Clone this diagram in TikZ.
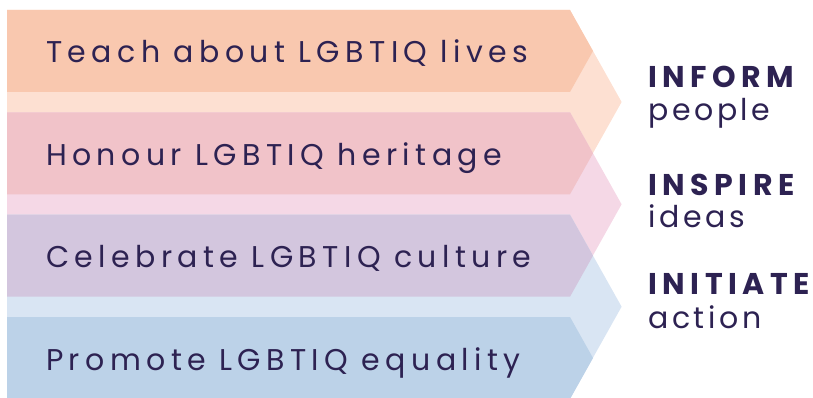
\documentclass[tikz,border=0pt]{standalone}
\usepackage{fontspec}
\setmainfont{Poppins}
\newfontfamily\bandfont[LetterSpace=18]{Poppins}
\newfontfamily\subfont[LetterSpace=12]{Poppins}
\newfontfamily\headfont[LetterSpace=18.5]{Poppins}
\usepackage{tikz}

\definecolor{txt}{HTML}{2D2252}
\definecolor{informfront}{HTML}{F9C8AF}
\definecolor{informback}{HTML}{FDE0D2}
\definecolor{honourfront}{HTML}{F1C3C9}
\definecolor{inspireback}{HTML}{F5D8E6}
\definecolor{celebfront}{HTML}{D3C6DE}
\definecolor{initiateback}{HTML}{D9E5F3}
\definecolor{promofront}{HTML}{BCD2E8}

\tikzset{
  bandtext/.style={anchor=base west,inner sep=0pt,text=txt,font=\bandfont\fontsize{30}{30}\selectfont},
  headtext/.style={anchor=base west,inner sep=0pt,text=txt,font=\headfont\bfseries\fontsize{30}{30}\selectfont},
  subtext/.style={anchor=base west,inner sep=0pt,text=txt,font=\subfont\fontsize{30}{30}\selectfont}
}

\begin{document}
\begin{tikzpicture}[x=1pt,y=-1pt]
				\useasboundingbox (0,0) rectangle (813,398);
				
				% back chevrons
				\fill[informback]   (7,10)    -- (570,10)    -- (621.6,102)   -- (570,194)   -- (7,194)   -- cycle;
				\fill[inspireback]  (7,112.3) -- (570,112.3) -- (621.6,204.3) -- (570,296.3) -- (7,296.3) -- cycle;
				\fill[initiateback] (7,214.7) -- (570,214.7) -- (621.6,306.7) -- (570,398.7) -- (7,398.7) -- cycle;
				
				% front bands
				\fill[informfront] (7,10)    -- (570,10)    -- (593,51)    -- (570,92)    -- (7,92)    -- cycle;
				\fill[honourfront] (7,112.3) -- (570,112.3) -- (593,153.3) -- (570,194.3) -- (7,194.3) -- cycle;
				\fill[celebfront]  (7,214.7) -- (570,214.7) -- (593,255.7) -- (570,296.7) -- (7,296.7) -- cycle;
				\fill[promofront]  (7,317)   -- (570,317)   -- (593,358)   -- (570,399)   -- (7,399)   -- cycle;
				
				\node[bandtext] (teach)     at (46,63)    {Teach about LGBTIQ lives};
				\node[bandtext] (honour)    at (46,165.3) {Honour LGBTIQ heritage};
				\node[bandtext] (celebrate) at (46,267.7) {Celebrate LGBTIQ culture};
				\node[bandtext] (promote)   at (46,370)   {Promote LGBTIQ equality};
				
				\node[headtext] (inform)   at (648,88)  {INFORM};
				\node[subtext]  (people)   at (648,121) {people};
				\node[headtext] (inspire)  at (648,195) {INSPIRE};
				\node[subtext]  (ideas)    at (648,227) {ideas};
				\node[headtext] (initiate) at (648,294) {INITIATE};
				\node[subtext]  (action)   at (648,328) {action};
\end{tikzpicture}
\end{document}
